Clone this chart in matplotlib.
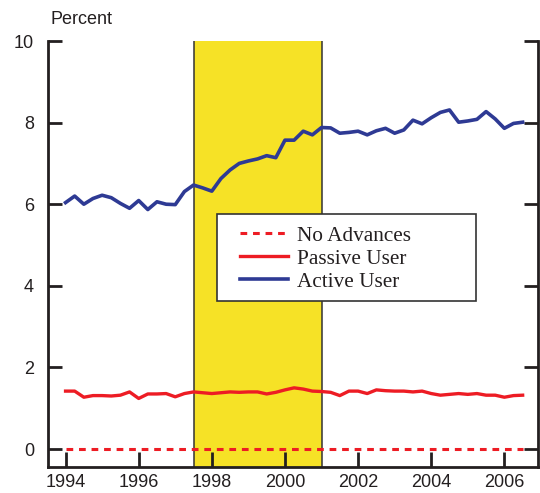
import matplotlib
matplotlib.use("Agg")
import matplotlib.pyplot as plt
from matplotlib.patches import Rectangle
import numpy as np

# ---- data (quarterly, 1994Q1 .. 2006Q3) ----
years = [1994 + 0.25 * i for i in range(51)]
active_user = [
    6.04, 6.20, 6.00, 6.14,
    6.22, 6.16, 6.02, 5.90,
    6.09, 5.87, 6.06, 6.00,
    5.99, 6.31, 6.47, 6.40,
    6.32, 6.63, 6.84, 7.00,
    7.06, 7.11, 7.19, 7.14,
    7.57, 7.57, 7.79, 7.70,
    7.88, 7.87, 7.74, 7.76,
    7.79, 7.70, 7.80, 7.86,
    7.74, 7.82, 8.06, 7.97,
    8.12, 8.25, 8.31, 8.01,
    8.04, 8.08, 8.27, 8.09,
    7.86, 7.98, 8.01,
]
passive_user = [
    1.42, 1.42, 1.27, 1.31,
    1.31, 1.30, 1.32, 1.40,
    1.24, 1.35, 1.35, 1.36,
    1.28, 1.36, 1.40, 1.38,
    1.36, 1.38, 1.40, 1.39,
    1.40, 1.40, 1.35, 1.39,
    1.45, 1.50, 1.47, 1.42,
    1.41, 1.39, 1.31, 1.42,
    1.42, 1.36, 1.45, 1.43,
    1.42, 1.42, 1.40, 1.42,
    1.36, 1.32, 1.34, 1.36,
    1.34, 1.36, 1.32, 1.32,
    1.27, 1.31, 1.32,
]
no_advances = [0.0] * 51
shade_start, shade_end = 1997.5, 2001.0
x_ticks = [1994, 1996, 1998, 2000, 2002, 2004, 2006]
y_ticks = [0, 2, 4, 6, 8, 10]
series_labels = ["No Advances", "Passive User", "Active User"]

RED = "#ED1C24"
BLUE = "#2E3A94"
YELLOW = "#F6E226"
INK = "#231F20"

fig = plt.figure(figsize=(5.4, 4.93), dpi=100)
ax = fig.add_axes([48 / 540, 1 - 467 / 493, 490 / 540, 426 / 493])

ax.axvspan(shade_start, shade_end, color=YELLOW, zorder=1, lw=0)
for xv in (shade_start, shade_end):
    ax.axvline(xv, color="#333333", lw=1.1, zorder=1.5)

l0, = ax.plot(years, no_advances, color=RED, lw=2.2, linestyle=(0, (2.2, 1.9)),
              zorder=3, clip_on=False)
l1, = ax.plot(years, passive_user, color=RED, lw=2.4, zorder=3)
l2, = ax.plot(years, active_user, color=BLUE, lw=2.6, zorder=3)

ax.set_xlim(1993.52, 2006.92)
ax.set_ylim(-0.44, 10)

ax.spines["top"].set_visible(False)
for s in ("left", "right", "bottom"):
    ax.spines[s].set_linewidth(2.0)
    ax.spines[s].set_color(INK)

ax.set_xticks(x_ticks)
ax.set_yticks(y_ticks)
ax.tick_params(axis="y", which="major", direction="in", length=10, width=2,
               left=True, right=True, labelleft=True, labelright=False,
               pad=10, labelsize=13, colors=INK)
ax.tick_params(axis="x", which="major", direction="in", length=11, width=2,
               bottom=True, top=False, pad=5, labelsize=13, colors=INK)
for t in ax.yaxis.get_major_ticks():
    if t.get_loc() == 10:
        t.tick1line.set_markersize(18)
        t.tick2line.set_markersize(18)
for lab in ax.get_xticklabels() + ax.get_yticklabels():
    lab.set_fontfamily("Liberation Sans")

fig.text(51 / 540, 1 - 19 / 493, "Percent", ha="left", va="center",
         fontsize=13, family="Liberation Sans", color=INK)

# legend frame
rect = Rectangle(((217 - 48) / 490, 1 - (301 - 41) / 426), 259 / 490, 87 / 426,
                 transform=ax.transAxes, facecolor="white", edgecolor="#333333",
                 lw=1.2, zorder=4)
ax.add_patch(rect)
leg = ax.legend([l0, l1, l2], series_labels, loc="upper left",
                bbox_to_anchor=((240 - 48) / 490, 1 - (226 - 41) / 426),
                frameon=False, borderpad=0, borderaxespad=0,
                handlelength=2.25, handletextpad=0.45, labelspacing=0.14,
                prop={"family": "Liberation Serif", "size": 15.3})
leg.set_zorder(5)
for t in leg.get_texts():
    t.set_color(INK)

fig.savefig("out.png", dpi=100)
